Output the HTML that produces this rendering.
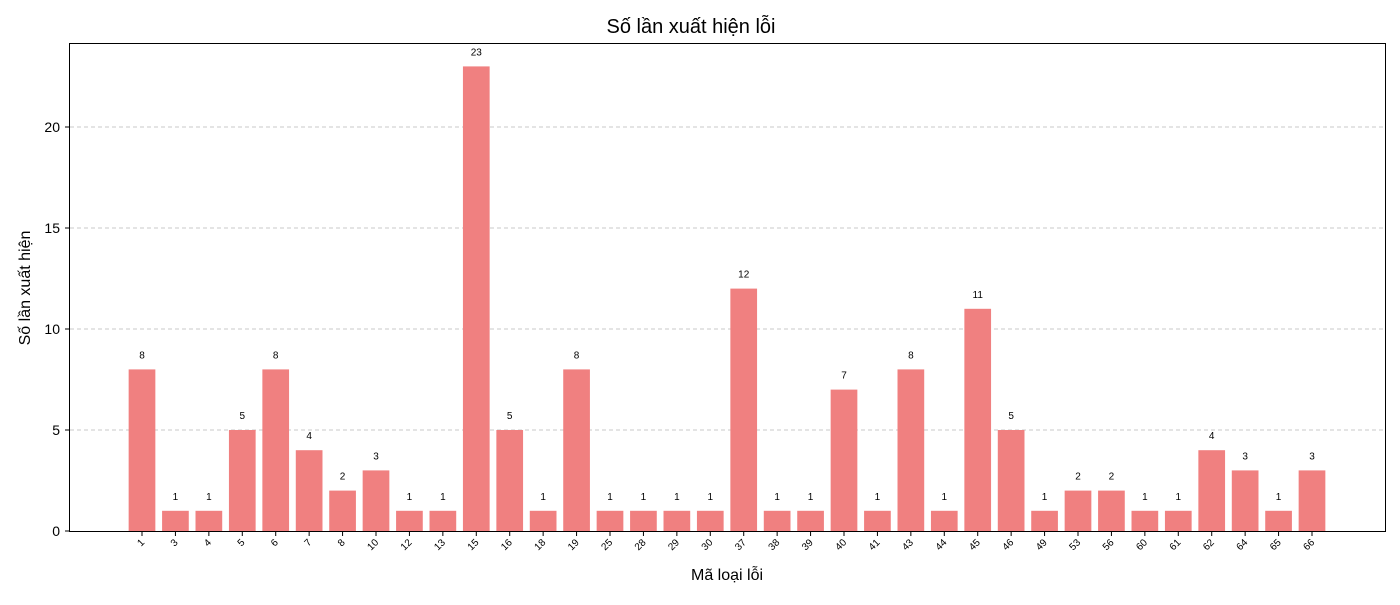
<!DOCTYPE html>
<html><head><meta charset="utf-8"><style>
body{margin:0;background:#fff;}
svg text{font-family:"Liberation Sans","DejaVu Sans",sans-serif;}
</style></head><body>
<svg id="chart" width="1400" height="600" xmlns="http://www.w3.org/2000/svg">
<text x="691" y="33" text-anchor="middle" font-size="20" fill="#000">Số lần xuất hiện lỗi</text>
<g id="grid"></g>
<g id="bars"></g>
<g id="labels"></g>
<g id="xticks"></g>
<g id="yticks"></g>
<rect x="69.5" y="43.5" width="1316" height="488" fill="none" stroke="#000" stroke-width="1"/>
<text x="727" y="580" text-anchor="middle" font-size="16">Mã loại lỗi</text>
<text x="30" y="288" text-anchor="middle" font-size="16" transform="rotate(-90 30 288)">Số lần xuất hiện</text>
</svg>
<script>
const categories=["1","3","4","5","6","7","8","10","12","13","15","16","18","19","25","28","29","30","37","38","39","40","41","43","44","45","46","49","53","56","60","61","62","64","65","66"];
const counts=[8,1,1,5,8,4,2,3,1,1,23,5,1,8,1,1,1,1,12,1,1,7,1,8,1,11,5,1,2,2,1,1,4,3,1,3];
const yTicks=[0,5,10,15,20];
const NS="http://www.w3.org/2000/svg";
const x0=142, step=(1312-142)/35, bw=26.7;
const y0=531, ppu=(531-127)/20;
const xs=i=>x0+i*step;
const ys=v=>y0-v*ppu;
function mk(tag,attrs,parent,text){const e=document.createElementNS(NS,tag);for(const k in attrs)e.setAttribute(k,attrs[k]);if(text!==undefined)e.textContent=text;document.getElementById(parent).appendChild(e);return e;}
yTicks.forEach(t=>{
  if(t>0){const g=mk('line',{x1:70,x2:1385,y1:ys(t),y2:ys(t),stroke:'#c8c8c8','stroke-dasharray':'4,3'},'grid');
  
  }
  const tk=mk('line',{x1:65,x2:69,y1:ys(t),y2:ys(t),stroke:'#000'},'yticks');
  
  
  const tl=mk('text',{x:60,y:ys(t)+5,'text-anchor':'end','font-size':14},'yticks',String(t));
  
  
});
categories.forEach((c,i)=>{
  const v=counts[i],x=xs(i);
  const r=mk('rect',{x:x-bw/2,y:ys(v),width:bw,height:v*ppu,fill:'#f08080'},'bars');
  
  
  const l=mk('text',{x:x,y:ys(v)-11,'text-anchor':'middle','font-size':10},'labels',String(v));
  
  
  const tk=mk('line',{x1:x,x2:x,y1:532,y2:536,stroke:'#000'},'xticks');
  
  
  const tl=mk('text',{x:x+3,y:543,'text-anchor':'end','font-size':10,transform:`rotate(-45 ${x+3} 543)`},'xticks',c);
  
  
});
</script>
</body></html>
